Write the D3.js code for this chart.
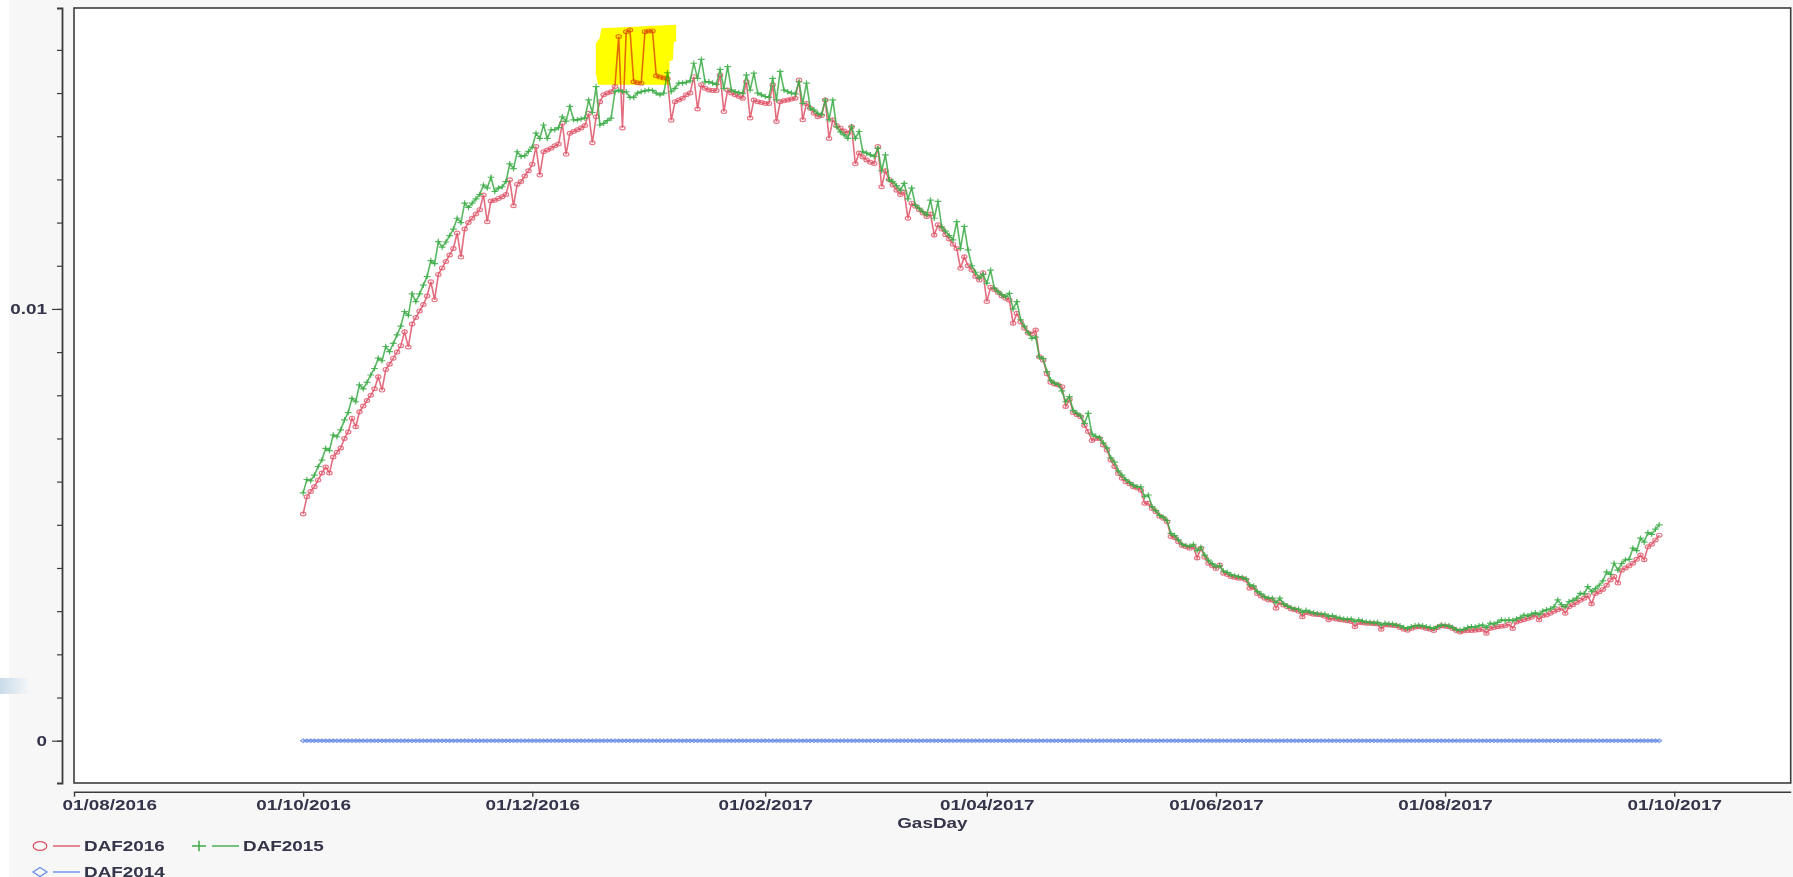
<!DOCTYPE html>
<html>
<head>
<meta charset="utf-8">
<script src="https://cdn.jsdelivr.net/npm/d3@7/dist/d3.min.js"></script>
<style>
  html, body { margin: 0; padding: 0; background: #f7f7f7; overflow: hidden; }
  svg { display: block; font-family: "Liberation Sans", Arial, sans-serif; }
</style>
</head>
<body>
<svg id="chart" width="1793" height="877"></svg>
<script>
// daily values from 01/10/2016 (one row per week, rows start on Saturday)
const firstDay = new Date(2016, 9, 1);

const daf2016 = [
  0.00525, 0.00565, 0.00577, 0.00588, 0.00604, 0.00620, 0.00634,
  0.00620, 0.00657, 0.00668, 0.00678, 0.00700, 0.00715, 0.00747,
  0.00727, 0.00762, 0.00775, 0.00788, 0.00800, 0.00815, 0.00843,
  0.00812, 0.00860, 0.00872, 0.00886, 0.00900, 0.00915, 0.00947,
  0.00912, 0.00965, 0.00980, 0.00995, 0.01010, 0.01030, 0.01063,
  0.01021, 0.01080, 0.01095, 0.01110, 0.01125, 0.01140, 0.01176,
  0.01120, 0.01185, 0.01200, 0.01210, 0.01220, 0.01230, 0.01264,
  0.01202, 0.01250, 0.01252, 0.01256, 0.01260, 0.01265, 0.01299,
  0.01239, 0.01289, 0.01295, 0.01308, 0.01320, 0.01335, 0.01376,
  0.01310, 0.01364, 0.01368, 0.01372, 0.01378, 0.01382, 0.01430,
  0.01358, 0.01407, 0.01411, 0.01415, 0.01419, 0.01425, 0.01453,
  0.01385, 0.01445, 0.01480, 0.01496, 0.01500, 0.01503, 0.01515,
  0.01631, 0.01419, 0.01642, 0.01646, 0.01526, 0.01524, 0.01523,
  0.01642, 0.01644, 0.01644, 0.01540, 0.01537, 0.01535, 0.01533,
  0.01437, 0.01480, 0.01484, 0.01488, 0.01496, 0.01500, 0.01538,
  0.01463, 0.01519, 0.01511, 0.01507, 0.01506, 0.01506, 0.01542,
  0.01457, 0.01507, 0.01500, 0.01496, 0.01492, 0.01488, 0.01526,
  0.01442, 0.01484, 0.01480, 0.01478, 0.01476, 0.01476, 0.01519,
  0.01434, 0.01480, 0.01482, 0.01484, 0.01486, 0.01488, 0.01530,
  0.01438, 0.01476, 0.01465, 0.01453, 0.01445, 0.01448, 0.01484,
  0.01395, 0.01438, 0.01425, 0.01419, 0.01412, 0.01407, 0.01422,
  0.01336, 0.01361, 0.01352, 0.01345, 0.01340, 0.01337, 0.01376,
  0.01283, 0.01320, 0.01300, 0.01287, 0.01275, 0.01265, 0.01270,
  0.01210, 0.01245, 0.01238, 0.01230, 0.01222, 0.01214, 0.01220,
  0.01171, 0.01195, 0.01185, 0.01172, 0.01162, 0.01150, 0.01140,
  0.01094, 0.01121, 0.01100, 0.01090, 0.01075, 0.01067, 0.01084,
  0.01017, 0.01050, 0.01045, 0.01038, 0.01030, 0.01025, 0.01020,
  0.00967, 0.00990, 0.00970, 0.00955, 0.00944, 0.00942, 0.00951,
  0.00889, 0.00882, 0.00850, 0.00830, 0.00826, 0.00824, 0.00820,
  0.00774, 0.00790, 0.00760, 0.00755, 0.00750, 0.00730, 0.00716,
  0.00695, 0.00700, 0.00700, 0.00685, 0.00673, 0.00650, 0.00635,
  0.00619, 0.00608, 0.00600, 0.00595, 0.00588, 0.00585, 0.00580,
  0.00550, 0.00550, 0.00538, 0.00530, 0.00520, 0.00515, 0.00507,
  0.00473, 0.00470, 0.00461, 0.00452, 0.00449, 0.00446, 0.00449,
  0.00423, 0.00446, 0.00425, 0.00411, 0.00405, 0.00399, 0.00407,
  0.00388, 0.00385, 0.00380, 0.00378, 0.00376, 0.00376, 0.00372,
  0.00353, 0.00355, 0.00341, 0.00335, 0.00330, 0.00326, 0.00326,
  0.00307, 0.00320, 0.00314, 0.00310, 0.00305, 0.00303, 0.00300,
  0.00287, 0.00297, 0.00295, 0.00293, 0.00292, 0.00291, 0.00288,
  0.00280, 0.00284, 0.00282, 0.00280, 0.00279, 0.00278, 0.00276,
  0.00264, 0.00274, 0.00273, 0.00272, 0.00272, 0.00271, 0.00270,
  0.00258, 0.00268, 0.00268, 0.00267, 0.00266, 0.00262, 0.00258,
  0.00256, 0.00260, 0.00263, 0.00264, 0.00263, 0.00260, 0.00258,
  0.00255, 0.00262, 0.00266, 0.00265, 0.00264, 0.00260, 0.00255,
  0.00252, 0.00254, 0.00255, 0.00255, 0.00256, 0.00257, 0.00258,
  0.00249, 0.00260, 0.00262, 0.00264, 0.00265, 0.00266, 0.00270,
  0.00260, 0.00275, 0.00278, 0.00280, 0.00283, 0.00286, 0.00291,
  0.00280, 0.00290, 0.00291, 0.00295, 0.00300, 0.00303, 0.00307,
  0.00295, 0.00310, 0.00315, 0.00320, 0.00325, 0.00330, 0.00336,
  0.00317, 0.00341, 0.00345, 0.00350, 0.00360, 0.00372, 0.00380,
  0.00365, 0.00395, 0.00400, 0.00405, 0.00411, 0.00420, 0.00430,
  0.00419, 0.00449, 0.00455, 0.00465, 0.00476
];

const daf2015 = [
  0.00574, 0.00605, 0.00602, 0.00615, 0.00635, 0.00650, 0.00677,
  0.00672, 0.00708, 0.00704, 0.00720, 0.00743, 0.00760, 0.00793,
  0.00785, 0.00824, 0.00815, 0.00830, 0.00847, 0.00862, 0.00886,
  0.00880, 0.00913, 0.00901, 0.00920, 0.00940, 0.00960, 0.00994,
  0.00985, 0.01035, 0.01017, 0.01035, 0.01055, 0.01075, 0.01112,
  0.01105, 0.01156, 0.01143, 0.01155, 0.01170, 0.01185, 0.01210,
  0.01200, 0.01245, 0.01235, 0.01245, 0.01255, 0.01265, 0.01287,
  0.01280, 0.01305, 0.01272, 0.01280, 0.01283, 0.01295, 0.01336,
  0.01325, 0.01364, 0.01353, 0.01355, 0.01365, 0.01375, 0.01407,
  0.01395, 0.01426, 0.01395, 0.01415, 0.01415, 0.01420, 0.01445,
  0.01435, 0.01469, 0.01438, 0.01438, 0.01440, 0.01442, 0.01484,
  0.01455, 0.01515, 0.01426, 0.01430, 0.01436, 0.01442, 0.01503,
  0.01507, 0.01503, 0.01503, 0.01490, 0.01490, 0.01500, 0.01503,
  0.01505, 0.01507, 0.01506, 0.01500, 0.01496, 0.01500, 0.01547,
  0.01503, 0.01511, 0.01523, 0.01523, 0.01525, 0.01528, 0.01569,
  0.01534, 0.01578, 0.01526, 0.01526, 0.01523, 0.01520, 0.01555,
  0.01511, 0.01561, 0.01507, 0.01503, 0.01501, 0.01500, 0.01542,
  0.01507, 0.01546, 0.01500, 0.01496, 0.01492, 0.01490, 0.01534,
  0.01484, 0.01550, 0.01507, 0.01503, 0.01500, 0.01498, 0.01526,
  0.01476, 0.01523, 0.01465, 0.01461, 0.01453, 0.01450, 0.01484,
  0.01438, 0.01484, 0.01422, 0.01410, 0.01403, 0.01395, 0.01422,
  0.01395, 0.01411, 0.01364, 0.01361, 0.01357, 0.01353, 0.01372,
  0.01320, 0.01357, 0.01299, 0.01295, 0.01285, 0.01275, 0.01291,
  0.01255, 0.01280, 0.01240, 0.01233, 0.01225, 0.01218, 0.01252,
  0.01210, 0.01249, 0.01190, 0.01180, 0.01170, 0.01160, 0.01202,
  0.01140, 0.01191, 0.01137, 0.01100, 0.01085, 0.01072, 0.01080,
  0.01060, 0.01090, 0.01048, 0.01040, 0.01033, 0.01028, 0.01036,
  0.01000, 0.01017, 0.00975, 0.00960, 0.00945, 0.00932, 0.00935,
  0.00889, 0.00885, 0.00855, 0.00835, 0.00828, 0.00825, 0.00810,
  0.00785, 0.00797, 0.00765, 0.00758, 0.00752, 0.00735, 0.00758,
  0.00710, 0.00705, 0.00702, 0.00690, 0.00678, 0.00655, 0.00645,
  0.00625, 0.00615, 0.00605, 0.00598, 0.00592, 0.00588, 0.00588,
  0.00565, 0.00569, 0.00542, 0.00533, 0.00522, 0.00517, 0.00510,
  0.00480, 0.00475, 0.00465, 0.00455, 0.00452, 0.00450, 0.00455,
  0.00440, 0.00448, 0.00430, 0.00418, 0.00410, 0.00403, 0.00405,
  0.00393, 0.00390, 0.00384, 0.00382, 0.00380, 0.00378, 0.00375,
  0.00361, 0.00358, 0.00346, 0.00340, 0.00333, 0.00330, 0.00330,
  0.00320, 0.00330, 0.00317, 0.00312, 0.00308, 0.00305, 0.00305,
  0.00297, 0.00302, 0.00298, 0.00296, 0.00294, 0.00293, 0.00293,
  0.00288, 0.00290, 0.00286, 0.00284, 0.00282, 0.00281, 0.00282,
  0.00276, 0.00280, 0.00277, 0.00275, 0.00274, 0.00273, 0.00274,
  0.00268, 0.00272, 0.00270, 0.00270, 0.00268, 0.00266, 0.00262,
  0.00260, 0.00264, 0.00266, 0.00267, 0.00266, 0.00264, 0.00262,
  0.00260, 0.00264, 0.00268, 0.00267, 0.00266, 0.00262, 0.00257,
  0.00256, 0.00258, 0.00262, 0.00264, 0.00263, 0.00266, 0.00268,
  0.00262, 0.00272, 0.00270, 0.00274, 0.00280, 0.00278, 0.00280,
  0.00278, 0.00282, 0.00285, 0.00291, 0.00289, 0.00293, 0.00296,
  0.00292, 0.00300, 0.00303, 0.00305, 0.00310, 0.00326, 0.00315,
  0.00310, 0.00322, 0.00325, 0.00330, 0.00341, 0.00340, 0.00357,
  0.00345, 0.00352, 0.00360, 0.00370, 0.00391, 0.00385, 0.00411,
  0.00395, 0.00410, 0.00419, 0.00420, 0.00446, 0.00440, 0.00469,
  0.00460, 0.00482, 0.00478, 0.00490, 0.00500
];

// three weeks per row
const daf2014 = [
  0, 0, 0, 0, 0, 0, 0,  0, 0, 0, 0, 0, 0, 0,  0, 0, 0, 0, 0, 0, 0,
  0, 0, 0, 0, 0, 0, 0,  0, 0, 0, 0, 0, 0, 0,  0, 0, 0, 0, 0, 0, 0,
  0, 0, 0, 0, 0, 0, 0,  0, 0, 0, 0, 0, 0, 0,  0, 0, 0, 0, 0, 0, 0,
  0, 0, 0, 0, 0, 0, 0,  0, 0, 0, 0, 0, 0, 0,  0, 0, 0, 0, 0, 0, 0,
  0, 0, 0, 0, 0, 0, 0,  0, 0, 0, 0, 0, 0, 0,  0, 0, 0, 0, 0, 0, 0,
  0, 0, 0, 0, 0, 0, 0,  0, 0, 0, 0, 0, 0, 0,  0, 0, 0, 0, 0, 0, 0,
  0, 0, 0, 0, 0, 0, 0,  0, 0, 0, 0, 0, 0, 0,  0, 0, 0, 0, 0, 0, 0,
  0, 0, 0, 0, 0, 0, 0,  0, 0, 0, 0, 0, 0, 0,  0, 0, 0, 0, 0, 0, 0,
  0, 0, 0, 0, 0, 0, 0,  0, 0, 0, 0, 0, 0, 0,  0, 0, 0, 0, 0, 0, 0,
  0, 0, 0, 0, 0, 0, 0,  0, 0, 0, 0, 0, 0, 0,  0, 0, 0, 0, 0, 0, 0,
  0, 0, 0, 0, 0, 0, 0,  0, 0, 0, 0, 0, 0, 0,  0, 0, 0, 0, 0, 0, 0,
  0, 0, 0, 0, 0, 0, 0,  0, 0, 0, 0, 0, 0, 0,  0, 0, 0, 0, 0, 0, 0,
  0, 0, 0, 0, 0, 0, 0,  0, 0, 0, 0, 0, 0, 0,  0, 0, 0, 0, 0, 0, 0,
  0, 0, 0, 0, 0, 0, 0,  0, 0, 0, 0, 0, 0, 0,  0, 0, 0, 0, 0, 0, 0,
  0, 0, 0, 0, 0, 0, 0,  0, 0, 0, 0, 0, 0, 0,  0, 0, 0, 0, 0, 0, 0,
  0, 0, 0, 0, 0, 0, 0,  0, 0, 0, 0, 0, 0, 0,  0, 0, 0, 0, 0, 0, 0,
  0, 0, 0, 0, 0, 0, 0,  0, 0, 0, 0, 0, 0, 0,  0, 0, 0, 0, 0, 0, 0,
  0, 0, 0, 0, 0
];

// x ticks and labelled y ticks
const xTickLabels = ["01/08/2016", "01/10/2016", "01/12/2016", "01/02/2017",
  "01/04/2017", "01/06/2017", "01/08/2017", "01/10/2017"];
const yTickLabels = [0, 0.01];

// yellow highlighter mark, in (day since 01/10/2016, value)
const highlightDay = [79.4, 99.3, 99.3, 98.7, 98.4, 97.5, 97.5, 78.5, 77.9, 77.9, 78.9];
const highlightValue = [0.01650, 0.01658, 0.01619, 0.01619, 0.01577, 0.01573, 0.01519, 0.01519, 0.01546, 0.01615, 0.01627];

const series = [
  { name: "DAF2014", values: daf2014, color: "#6a8ee6", marker: "diamond" },
  { name: "DAF2016", values: daf2016, color: "#de5468", marker: "circle" },
  { name: "DAF2015", values: daf2015, color: "#3cab46", marker: "plus" }
];

const svg = d3.select("#chart");
const width = 1793, height = 877;
const STRETCH = 1.35;
const parseTick = d3.timeParse("%d/%m/%Y");

const plot = { left: 74, right: 1790.7, top: 8, bottom: 783 };

const x = d3.scaleTime()
  .domain([new Date(2016, 7, 1), new Date(2017, 10, 1)])
  .range([plot.left, plot.right]);

const y = d3.scaleLinear()
  .domain([-0.00098, 0.01697])
  .range([plot.bottom, plot.top]);

const dayDate = i => d3.timeDay.offset(firstDay, i);

// background
const defs = svg.append("defs");
const grad = defs.append("linearGradient").attr("id", "edge-blue");
grad.append("stop").attr("offset", "0%").attr("stop-color", "#c8dbea");
grad.append("stop").attr("offset", "100%").attr("stop-color", "#f7f7f7");

svg.append("rect").attr("width", width).attr("height", height).attr("fill", "#f7f7f7");
svg.append("rect").attr("width", 9).attr("height", height).attr("fill", "#ffffff");
svg.append("rect").attr("y", 678).attr("width", 30).attr("height", 16).attr("fill", "url(#edge-blue)");

svg.append("rect")
  .attr("x", plot.left)
  .attr("y", plot.top)
  .attr("width", plot.right - plot.left)
  .attr("height", plot.bottom - plot.top)
  .attr("fill", "#ffffff")
  .attr("stroke", "#3c3c3c")
  .attr("stroke-width", 1.6);

// y axis (minor ticks every 0.001, labels at 0 and 0.01)
const yAxisG = svg.append("g")
  .attr("transform", "translate(62,0)")
  .call(d3.axisLeft(y)
    .tickValues(d3.range(0, 0.0165, 0.001))
    .tickSize(5)
    .tickSizeOuter(5)
    .tickFormat(""));

yAxisG.select(".domain").attr("stroke", "#3c3c3c").attr("stroke-width", 1.8);
yAxisG.selectAll(".tick line").attr("stroke", "#3c3c3c").attr("stroke-width", 1.2);

const yLabelG = svg.append("g")
  .attr("transform", "translate(62,0)")
  .call(d3.axisLeft(y)
    .tickValues(yTickLabels)
    .tickSize(10)
    .tickFormat(d => d === 0 ? "0" : d3.format(".2")(d)));

yLabelG.select(".domain").remove();
yLabelG.selectAll(".tick line").attr("stroke", "#3c3c3c").attr("stroke-width", 1.2);
yLabelG.selectAll(".tick text")
  .attr("x", 0)
  .attr("dy", "0.35em")
  .attr("transform", `translate(-15,0) scale(${STRETCH},1)`)
  .attr("font-family", "Liberation Sans, Arial, sans-serif")
  .attr("font-size", 14)
  .attr("font-weight", "bold")
  .attr("fill", "#34344a");

// x axis
const xAxisG = svg.append("g")
  .attr("transform", "translate(0,791.7)")
  .call(d3.axisBottom(x)
    .tickValues(xTickLabels.map(parseTick))
    .tickSize(5)
    .tickSizeOuter(0)
    .tickFormat(d3.timeFormat("%d/%m/%Y")));

xAxisG.select(".domain").attr("stroke", "#3c3c3c").attr("stroke-width", 1.6);
xAxisG.selectAll(".tick line").attr("stroke", "#3c3c3c").attr("stroke-width", 1.4);
xAxisG.selectAll(".tick text")
  .attr("y", 0)
  .attr("dy", 0)
  .attr("text-anchor", (d, i) => i === 0 ? "start" : "middle")
  .attr("transform", (d, i) => `translate(${i === 0 ? -12 : 0},18.5) scale(${STRETCH},1)`)
  .attr("font-family", "Liberation Sans, Arial, sans-serif")
  .attr("font-size", 14)
  .attr("font-weight", "bold")
  .attr("fill", "#34344a");

svg.append("text")
  .attr("transform", `translate(${(plot.left + plot.right) / 2},828) scale(${STRETCH},1)`)
  .attr("text-anchor", "middle")
  .attr("font-size", 14)
  .attr("font-weight", "bold")
  .attr("fill", "#34344a")
  .text("GasDay");

// markers
const markerPath = {
  plus: "M-3.4,0H3.4M0,-2.8V2.8",
  diamond: "M0,-1.8L2.5,0L0,1.8L-2.5,0Z"
};

const line = d3.line()
  .x((d, i) => x(dayDate(i)))
  .y(d => y(d));

const plotG = svg.append("g");

series.forEach(s => {
  const g = plotG.append("g").attr("class", "series");

  g.append("path")
    .datum(s.values)
    .attr("d", line)
    .attr("fill", "none")
    .attr("stroke", s.color)
    .attr("stroke-width", 1.6)
    .attr("stroke-opacity", 0.85);

  if (s.marker === "circle") {
    g.selectAll(".pt")
      .data(s.values)
      .enter()
      .append("ellipse")
      .attr("class", "pt")
      .attr("cx", (d, i) => x(dayDate(i)))
      .attr("cy", d => y(d))
      .attr("rx", 2.7)
      .attr("ry", 1.9)
      .attr("fill", "none")
      .attr("stroke", s.color)
      .attr("stroke-opacity", 0.8)
      .attr("stroke-width", 1.2);
  } else {
    g.selectAll(".pt")
      .data(s.values)
      .enter()
      .append("path")
      .attr("class", "pt")
      .attr("transform", (d, i) => `translate(${x(dayDate(i))},${y(d)})`)
      .attr("d", markerPath[s.marker])
      .attr("fill", "none")
      .attr("stroke", s.color)
      .attr("stroke-opacity", 0.85)
      .attr("stroke-width", 1.2);
  }
});

// highlighter over the red spikes
svg.append("path")
  .datum(highlightDay.map((d, i) => [d, highlightValue[i]]))
  .attr("d", d3.line()
    .x(d => x(d3.timeHour.offset(firstDay, Math.round(d[0] * 24))))
    .y(d => y(d[1]))
    .curve(d3.curveLinearClosed))
  .attr("fill", "#ffff00")
  .style("mix-blend-mode", "multiply");

// legend
const legendItems = [
  { s: series[1], x: 40, y: 846 },
  { s: series[2], x: 199, y: 846 },
  { s: series[0], x: 40, y: 872 }
];

const legend = svg.append("g");

legendItems.forEach(item => {
  const g = legend.append("g").attr("transform", `translate(${item.x},${item.y})`);
  if (item.s.marker === "circle") {
    g.append("ellipse").attr("rx", 6.8).attr("ry", 4.4)
      .attr("fill", "none").attr("stroke", item.s.color).attr("stroke-width", 1.3);
  } else if (item.s.marker === "plus") {
    g.append("path").attr("d", "M-7,0H7M0,-5.3V5.3")
      .attr("fill", "none").attr("stroke", item.s.color).attr("stroke-width", 1.5);
  } else {
    g.append("path").attr("d", "M0,-4.5L7,0L0,4.5L-7,0Z")
      .attr("fill", "none").attr("stroke", item.s.color).attr("stroke-width", 1.3);
  }
  g.append("line")
    .attr("x1", 13).attr("x2", 40)
    .attr("stroke", item.s.color)
    .attr("stroke-width", 1.4);
  g.append("text")
    .attr("transform", `translate(44,5) scale(${STRETCH},1)`)
    .attr("font-size", 14)
    .attr("font-weight", "bold")
    .attr("fill", "#34344a")
    .text(item.s.name);
});
</script>
</body>
</html>
